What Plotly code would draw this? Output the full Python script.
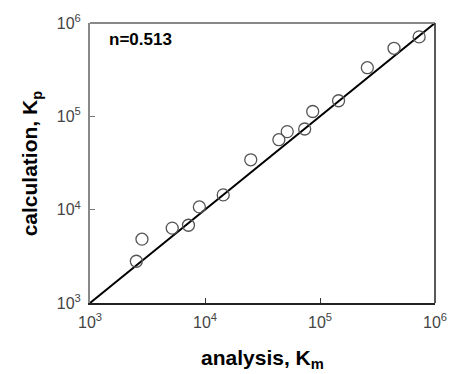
import plotly.graph_objects as go

analysis_km = [2530, 2830, 5190, 7180, 8930, 14400, 25000, 43900, 51900,
               73600, 86400, 145000, 258000, 440000, 728000]
calculation_kp = [2800, 4830, 6340, 6810, 10700, 14400, 34200, 56200, 68600,
                  73200, 112700, 146800, 332000, 536000, 710000]
line_x = [1e3, 1e6]
line_y = [1e3, 1e6]
tick_vals = [1e3, 1e4, 1e5, 1e6]
tick_text = ["10<sup>3</sup>", "10<sup>4</sup>", "10<sup>5</sup>", "10<sup>6</sup>"]

fig = go.Figure()
fig.add_trace(go.Scatter(x=line_x, y=line_y, mode="lines",
                         line=dict(color="black", width=2), showlegend=False))
fig.add_trace(go.Scatter(x=analysis_km, y=calculation_kp, mode="markers",
                         marker=dict(symbol="circle-open", size=12,
                                     line=dict(color="#555555", width=1.3),
                                     color="#555555"),
                         showlegend=False))

tickfont = dict(family="Liberation Sans, Arial", size=16, color="#444444")
fig.update_layout(
    width=459, height=374,
    margin=dict(l=90, r=22, t=15, b=71),
    paper_bgcolor="white", plot_bgcolor="white",
    xaxis=dict(type="log", range=[3, 6], tickvals=tick_vals, ticktext=tick_text,
               ticks="inside", ticklen=5, tickcolor="#333333", tickwidth=1,
               showline=True, linecolor="#222222", linewidth=1.5,
               showgrid=False, zeroline=False, tickfont=tickfont,
               ticklabelstandoff=4),
    yaxis=dict(type="log", range=[3, 6], tickvals=tick_vals, ticktext=tick_text,
               ticks="inside", ticklen=5, tickcolor="#777777", tickwidth=1,
               showline=True, linecolor="#888888", linewidth=2,
               showgrid=False, zeroline=False, tickfont=tickfont,
               ticklabelstandoff=4),
    shapes=[
        dict(type="line", xref="paper", yref="paper", x0=0, x1=1, y0=1, y1=1,
             line=dict(color="#888888", width=2)),
        dict(type="line", xref="paper", yref="paper", x0=1, x1=1, y0=0, y1=1,
             line=dict(color="#222222", width=1.5)),
    ],
    annotations=[
        dict(text="<b>n=0.513</b>", xref="paper", yref="paper", x=0.05, y=0.94,
             xanchor="left", yanchor="middle", showarrow=False,
             font=dict(family="Liberation Sans, Arial", size=17, color="black")),
        dict(text="<b>analysis, K<sub>m</sub></b>", xref="paper", yref="paper",
             x=0.5, y=-0.2, xanchor="center", yanchor="middle", showarrow=False,
             font=dict(family="Liberation Sans, Arial", size=21, color="black")),
        dict(text="<b>calculation, K<sub>p</sub></b>", xref="paper", yref="paper",
             x=-0.17, y=0.5, xanchor="center", yanchor="middle", showarrow=False,
             textangle=-90,
             font=dict(family="Liberation Sans, Arial", size=21, color="black")),
    ],
)
fig.write_html("out.html")
